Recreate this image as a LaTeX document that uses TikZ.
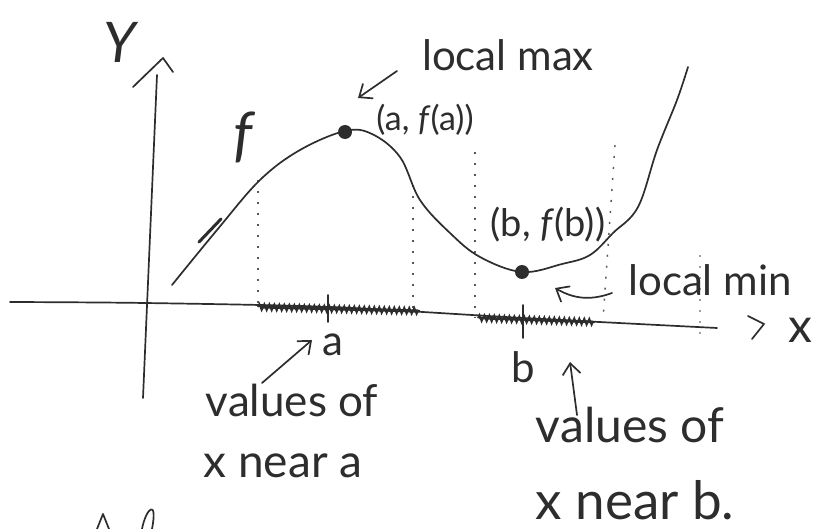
\documentclass[tikz,border=0pt]{standalone}
\usepackage{fontspec}
\setmainfont{Lato}
\usetikzlibrary{arrows.meta,decorations.pathmorphing}
\definecolor{pencil}{RGB}{45,45,45}
\tikzset{
  pen/.style={draw=pencil, line width=1.7pt, line cap=round, line join=round},
  hand/.style={text=pencil, inner sep=0pt, font=\fontsize{42}{48}\selectfont},
  handbig/.style={text=pencil, inner sep=0pt, font=\fontsize{48}{54}\selectfont},
  harrow/.style={pen, -{Straight Barb[length=11pt,width=18pt,line width=1.7pt]}},
  dotline/.style={draw=pencil!80, line width=1.4pt, dash pattern=on 2pt off 9pt},
  hatch/.style={draw=pencil, line width=1.8pt, decorate, decoration={zigzag, segment length=5pt, amplitude=3pt}},
  ptdot/.style={circle, fill=pencil, minimum size=14pt, inner sep=0pt}
}
\begin{document}
\begin{tikzpicture}[x=1pt, y=-1pt]
\useasboundingbox (0,0) rectangle (822,529);
% axes
\coordinate (xl) at (10,302);
\coordinate (xr) at (717,328);
\coordinate (ybot) at (143,398);
\coordinate (ytop) at (157,75);
\draw[pen] plot[smooth, tension=0.5] coordinates {(10,302) (145,303) (330,307) (523,318) (717,328)};
\draw[pen] (ybot) -- (ytop);
\draw[pen] (133,87) -- (163,58) -- (173,72);
\draw[pen] (748,316) -- (764,324) -- (752,339);
% dotted verticals
\draw[dotline] (258,180) -- (258,306);
\draw[dotline] (413,185) -- (413,311);
\draw[dotline] (475,152) -- (475,318);
\draw[dotline] (615,145) -- (603,320);
\draw[dotline, draw=pencil!45] (700,255) -- (700,340);
% hatched intervals
\draw[hatch] (258,307) -- (420,311);
\draw[pen, line width=3pt] (262,307) -- (418,311);
\draw[hatch] (478,318) -- (595,322);
\draw[pen, line width=2.6pt] (480,318) -- (593,322);
% ticks
\coordinate (ta) at (328,322);
\coordinate (tb) at (523,338);
\draw[pen] (328,295) -- (ta);
\draw[pen] (523,305) -- (tb);
% curve
\draw[pen] plot[smooth, tension=0.6] coordinates {(172,285) (217,230) (260,180) (300,150) (345,131) (372,134) (400,157) (420,200) (450,233) (480,257) (522,272) (562,264) (590,255) (613,233) (638,207) (657,150) (677,100) (688,67)};
\draw[pen, line width=3pt] (199,242) -- (221,219);
% points
\node[ptdot] (max) at (345,132) {};
\node[ptdot] (min) at (522,272) {};
% labels
\node[handbig, font=\fontsize{56}{60}\selectfont\itshape] (ylab) at (120,42) {Y};
\node[handbig, font=\fontsize{60}{64}\selectfont\itshape] (flab) at (243,137) {f};
\node[hand] (maxlab) at (508,55) {local max};
\node[hand, font=\fontsize{34}{38}\selectfont] (ab) at (425,120) {(a, \textit{f}(a))};
\node[hand, font=\fontsize{38}{42}\selectfont] (bb) at (548,225) {(b, \textit{f}(b))};
\node[hand] (minlab) at (710,280) {local min};
\node[hand] (alab) at (333,345) {a};
\node[hand] (blab) at (523,367) {b};
\node[hand, font=\fontsize{44}{50}\selectfont] (va1) at (292,400) {values of};
\node[hand, font=\fontsize{46}{50}\selectfont] (va2) at (283,466) {x near a};
\node[handbig] (vb1) at (630,425) {values of};
\node[handbig, font=\fontsize{53}{58}\selectfont] (vb2) at (635,500) {x near b.};
\node[handbig] (xlab) at (800,330) {x};
% arrows
\coordinate (maxtail) at (397,71);
\coordinate (maxtip) at (358,98);
\draw[harrow] (maxtail) -- (maxtip);
\coordinate (mintail) at (612,293);
\coordinate (mintip) at (555,288);
\draw[harrow] (mintail) to[bend left=25] (mintip);
\coordinate (atail) at (262,383);
\coordinate (atip) at (312,340);
\draw[harrow] (atail) -- (atip);
\coordinate (btail) at (577,415);
\coordinate (btip) at (570,362);
\draw[harrow] (btail) -- (btip);
% partial text at bottom edge
\draw[pen] (97,529) -- (103,514) -- (109,529);
\draw[pen] (142,529) .. controls (146,508) and (158,498) .. (152,529);
\end{tikzpicture}
\end{document}
